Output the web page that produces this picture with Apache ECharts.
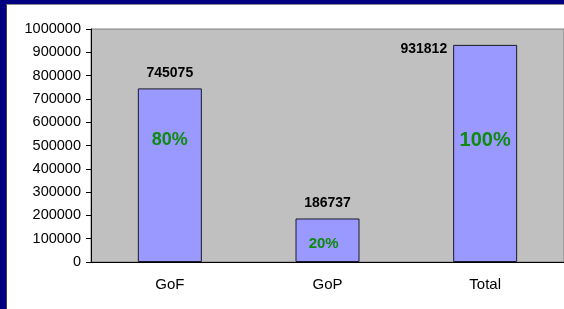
<!DOCTYPE html>
<html lang="en">

<head>
    <meta charset="UTF-8">
    <title>GoF GoP Total</title>
    <style>
        * {
            padding: 0;
            margin: 0;
            box-sizing: border-box;
        }

        html,
        body {
            width: 564px;
            height: 309px;
            overflow: hidden;
            background: #000080;
        }

        .frame {
            position: absolute;
            left: 6px;
            top: 4px;
            width: 558px;
            height: 305px;
            border-left: 1px solid #404040;
            border-top: 1px solid #8a8a8a;
            background: #fff;
        }

        .chart-container {
            width: 557px;
            height: 304px;
        }
    </style>
</head>

<body>
    <div class="frame">
        <div id="chart-container" class="chart-container"></div>
    </div>
</body>

</html>
<script src="https://cdn.jsdelivr.net/npm/echarts/dist/echarts.min.js"></script>

<script>
    // 分类
    const categories = ['GoF', 'GoP', 'Total']
    // 柱子数值
    const values = [745075, 186737, 931812]
    // 百分比标签
    const percentLabels = ['80%', '20%', '100%']
    // y轴刻度
    const yMax = 1000000
    const yStep = 100000

    window.onload = function () {
        var myChart = echarts.init(document.getElementById('chart-container'))

        var font = 'Liberation Sans, Arial, sans-serif'

        // 数值标签：Total 放在柱子左边
        var valueData = values.map(function (v, i) {
            var item = { value: v }
            if (i === values.length - 1) {
                item.label = {
                    position: [-6, 4],
                    align: 'right',
                    verticalAlign: 'middle'
                }
            }
            return item
        })

        // 百分比标签位置和字号
        var pctStyle = [
            { pos: ['50%', '30%'], size: 18 },
            { pos: ['44%', '59%'], size: 15 },
            { pos: ['50%', '44%'], size: 20 }
        ]
        var pctData = values.map(function (v, i) {
            return {
                value: v,
                label: {
                    formatter: percentLabels[i],
                    position: pctStyle[i].pos,
                    fontSize: pctStyle[i].size,
                    align: 'center',
                    verticalAlign: 'middle'
                }
            }
        })

        var option = {
            backgroundColor: '#fff',
            animation: false,
            grid: {
                left: 84,
                top: 24,
                width: 477,
                height: 233,
                show: true,
                backgroundColor: '#c0c0c0',
                borderColor: '#808080',
                borderWidth: 1
            },
            xAxis: {
                type: 'category',
                data: categories,
                axisLine: { lineStyle: { color: '#000', width: 1 } },
                axisTick: { length: 4, lineStyle: { color: '#000' } },
                axisLabel: {
                    color: '#000',
                    fontFamily: font,
                    fontSize: 15,
                    margin: 15
                }
            },
            yAxis: {
                type: 'value',
                min: 0,
                max: yMax,
                interval: yStep,
                splitLine: { show: false },
                axisLine: { show: true, lineStyle: { color: '#000', width: 1 } },
                axisTick: { show: true, length: 5, lineStyle: { color: '#000' } },
                axisLabel: {
                    color: '#000',
                    fontFamily: font,
                    fontSize: 14.5,
                    margin: 10,
                    formatter: function (v) { return String(v) }
                }
            },
            series: [{
                    type: 'bar',
                    barWidth: 64,
                    data: valueData,
                    itemStyle: {
                        color: '#9999ff',
                        borderColor: '#1a1a2a',
                        borderWidth: 1
                    },
                    label: {
                        show: true,
                        position: 'top',
                        distance: 8,
                        color: '#000',
                        fontFamily: font,
                        fontWeight: 'bold',
                        fontSize: 14
                    }
                },
                {
                    // 叠加一层透明柱子用来放百分比
                    type: 'bar',
                    barWidth: 64,
                    barGap: '-100%',
                    silent: true,
                    data: pctData,
                    itemStyle: {
                        color: 'rgba(0,0,0,0)'
                    },
                    label: {
                        show: true,
                        color: '#0f8a0f',
                        fontFamily: font,
                        fontWeight: 'bold'
                    }
                }
            ]
        }
        myChart.setOption(option)
    }
</script>
